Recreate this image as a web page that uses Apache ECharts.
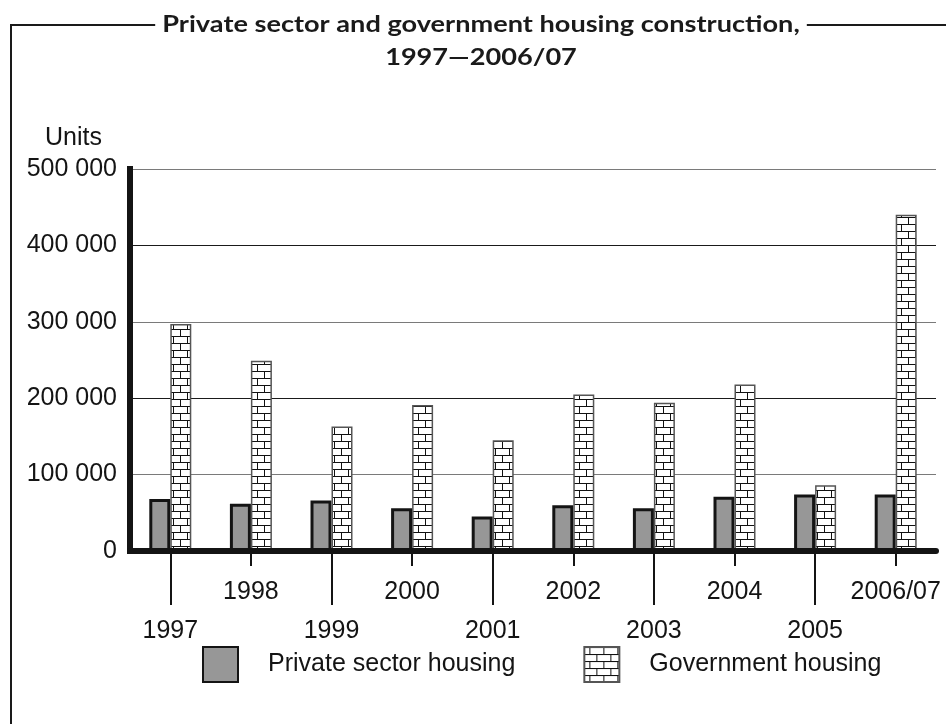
<!DOCTYPE html>
<html>
<head>
<meta charset="utf-8">
<script src="https://cdn.jsdelivr.net/npm/echarts@6/dist/echarts.min.js"></script>
<style>
  html, body { margin: 0; padding: 0; background: #fff; }
  #chart { width: 946px; height: 724px; }
</style>
</head>
<body>
<div id="chart"></div>
<script>
// Housing units completed per year
const categories = ['1997', '1998', '1999', '2000', '2001', '2002', '2003', '2004', '2005', '2006/07'];
const privateSector = [68000, 62000, 66000, 56000, 45000, 60000, 56000, 71000, 74000, 74000];
const government = [297000, 249000, 163000, 191000, 145000, 205000, 194000, 218000, 86000, 440000];
const yTicks = [0, 100000, 200000, 300000, 400000, 500000];

const LABEL_FONT = '"Liberation Sans", Arial, sans-serif';
const INK = '#141414';

// Brick-wall fill used for the government series
function brickPattern() {
  const c = document.createElement('canvas');
  c.width = 14; c.height = 14;
  const g = c.getContext('2d');
  g.fillStyle = '#fff';
  g.fillRect(0, 0, 14, 14);
  g.fillStyle = '#111';
  g.fillRect(0, 0, 14, 1);
  g.fillRect(0, 7, 14, 1);
  g.fillRect(5, 0, 1, 7);
  g.fillRect(12, 7, 1, 7);
  return c;
}
const bricks = { image: brickPattern(), repeat: 'repeat' };

function spaced(v) {
  return String(v).replace(/\B(?=(\d{3})+(?!\d))/g, ' ');
}

const baseLabel = { fontFamily: LABEL_FONT, fontSize: 25, color: INK };
const isEven = i => i % 2 === 0;
const isOdd = i => i % 2 === 1;

const chart = echarts.init(document.getElementById('chart'), null, { renderer: 'canvas' });
chart.setOption({
  animation: false,
  backgroundColor: '#fff',
  graphic: [
    {
      type: 'polyline',
      z: 0,
      shape: { points: [[11, 724], [11, 25], [946, 25]] },
      style: { stroke: '#1a1a1a', lineWidth: 2, fill: null }
    },
    {
      type: 'text',
      z: 1,
      x: 481,
      y: 8,
      scaleX: 1.18,
      style: {
        text: 'Private sector and government housing construction,\n1997\u20142006/07',
        fontFamily: 'Lato, "Open Sans", sans-serif',
        fontWeight: 'bold',
        fontSize: 23,
        lineHeight: 33,
        fill: '#1a1a1a',
        align: 'center',
        verticalAlign: 'top',
        backgroundColor: '#fff',
        padding: [0, 6]
      }
    }
  ],
  legend: {
    left: 202,
    top: 646,
    padding: 0,
    itemWidth: 35,
    itemHeight: 35,
    itemGap: 68,
    icon: 'rect',
    selectedMode: false,
    formatter: name => '{gap| }' + name,
    textStyle: Object.assign({}, baseLabel, { rich: { gap: { width: 25 } } }),
    data: ['Private sector housing', 'Government housing']
  },
  grid: { left: 130, right: 10, top: 169, bottom: 173, containLabel: false, outerBoundsMode: 'none' },
  xAxis: [
    {
      type: 'category',
      data: categories,
      position: 'bottom',
      z: 3,
      axisLine: { show: true, lineStyle: { color: INK, width: 6 } },
      axisTick: { show: true, alignWithLabel: true, length: 15, interval: isOdd, lineStyle: { color: INK, width: 2 } },
      axisLabel: Object.assign({ show: true, interval: isOdd, margin: 29 }, baseLabel),
      splitLine: { show: false }
    },
    {
      type: 'category',
      data: categories,
      position: 'bottom',
      offset: 0,
      z: 3,
      axisLine: { show: true, lineStyle: { color: INK, width: 0, opacity: 0 } },
      axisTick: { show: true, alignWithLabel: true, length: 54, interval: isEven, lineStyle: { color: INK, width: 2 } },
      axisLabel: Object.assign({ show: true, interval: isEven, margin: 68 }, baseLabel),
      splitLine: { show: false }
    }
  ],
  yAxis: {
    type: 'value',
    min: yTicks[0],
    max: yTicks[yTicks.length - 1],
    interval: yTicks[1] - yTicks[0],
    name: 'Units',
    nameLocation: 'end',
    nameGap: 18,
    nameTextStyle: Object.assign({ align: 'right', padding: [0, 28, 0, 0] }, baseLabel),
    axisLine: { show: true, lineStyle: { color: INK, width: 6, cap: 'square' } },
    axisTick: { show: false },
    axisLabel: Object.assign({ margin: 13, formatter: v => spaced(v) }, baseLabel),
    splitLine: { show: true, showMinLine: false, lineStyle: { color: ['#7a7a7a', '#1a1a1a'], width: 1 } }
  },
  series: [
    {
      name: 'Private sector housing',
      type: 'bar',
      xAxisIndex: 0,
      data: privateSector,
      barWidth: 21,
      barGap: '0%',
      itemStyle: { color: '#979797', borderColor: INK, borderWidth: 3 }
    },
    {
      name: 'Government housing',
      type: 'bar',
      xAxisIndex: 0,
      data: government,
      barWidth: 21,
      barGap: '0%',
      itemStyle: { color: bricks, borderColor: '#555', borderWidth: 1.5 }
    }
  ]
});
</script>
</body>
</html>
